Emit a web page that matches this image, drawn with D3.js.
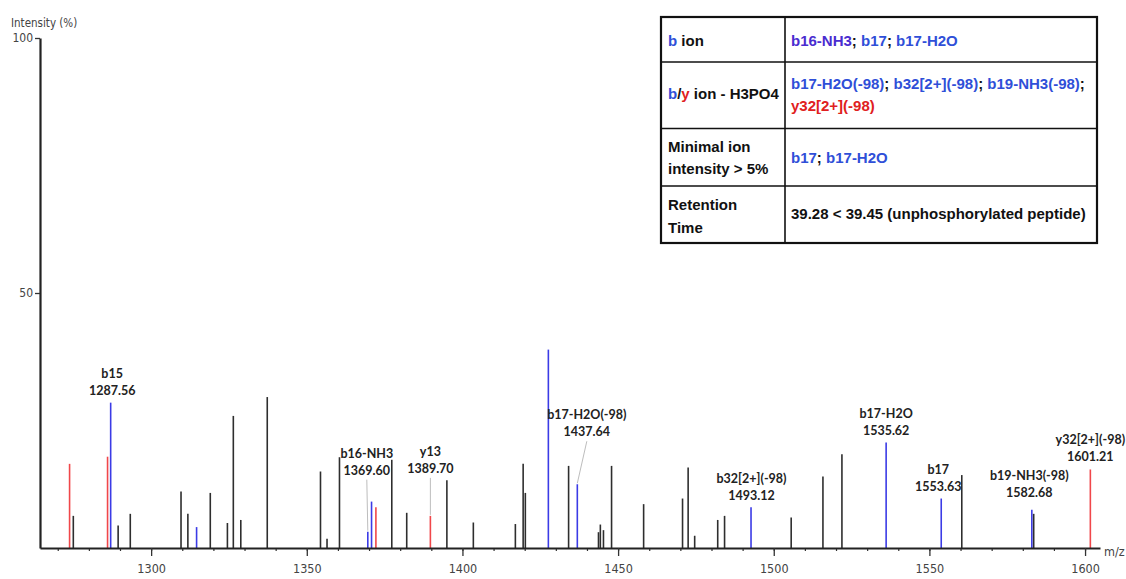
<!DOCTYPE html>
<html>
<head>
<meta charset="utf-8">
<script src="https://cdn.jsdelivr.net/npm/d3@7"></script>
<style>
  html, body { margin: 0; padding: 0; background: #fff; }
  svg { display: block; }
</style>
</head>
<body>
<svg id="chart" width="1126" height="579"></svg>
<script>
// ---------------- DATA ----------------
const peakMz = [1273.8, 1275.0, 1286.0, 1287.0, 1289.4, 1293.3, 1309.6, 1311.8, 1314.6, 1319.0,
  1324.5, 1326.4, 1328.8, 1337.3, 1354.4, 1356.5, 1360.5, 1369.6, 1370.8, 1372.2,
  1377.3, 1382.1, 1389.7, 1395.0, 1403.5, 1417.0, 1419.5, 1420.2, 1427.6, 1434.1,
  1436.9, 1443.7, 1444.3, 1445.3, 1447.9, 1458.2, 1470.7, 1472.5, 1474.6, 1482.0,
  1484.2, 1492.7, 1505.6, 1515.8, 1521.9, 1536.1, 1553.8, 1560.4, 1582.9, 1583.5,
  1601.7];
const peakIntensity = [16.5, 6.3, 17.9, 28.5, 4.4, 6.7, 11.1, 6.7, 4.1, 10.8,
  4.9, 25.9, 5.5, 29.6, 15.0, 1.8, 17.8, 3.2, 9.1, 8.0,
  17.3, 6.9, 6.3, 13.3, 5.0, 4.7, 16.5, 10.8, 38.9, 16.1,
  12.5, 3.1, 4.6, 3.5, 16.1, 8.6, 9.7, 15.8, 2.4, 5.5,
  6.3, 8.0, 6.0, 14.0, 18.4, 20.7, 9.7, 14.3, 7.5, 6.7,
  15.4];
const peakType = ["y", "o", "y", "b", "o", "o", "o", "o", "b", "o",
  "o", "o", "o", "o", "o", "o", "o", "b", "b", "y",
  "o", "o", "y", "o", "o", "o", "o", "o", "b", "o",
  "b", "o", "o", "o", "o", "o", "o", "o", "o", "o",
  "o", "b", "o", "o", "o", "b", "b", "o", "b", "o",
  "y"];

// annotated peaks: index into peak arrays, ion name, m/z text
const annPeak = [3, 17, 22, 30, 41, 45, 46, 48, 50];
const annIon  = ["b15", "b16-NH3", "y13", "b17-H2O(-98)", "b32[2+](-98)", "b17-H2O", "b17", "b19-NH3(-98)", "y32[2+](-98)"];
const annMz   = ["1287.56", "1369.60", "1389.70", "1437.64", "1493.12", "1535.62", "1553.63", "1582.68", "1601.21"];

const xTicks = [1300, 1350, 1400, 1450, 1500, 1550, 1600];
const xMinorTicks = d3.range(1270, 1601, 10);
const yTicks = [50, 100];

// table contents
const tableRows = [
  { left: [[["b", "blue"], [" ion", "black"]]],
    right: [[["b16-NH3", "purple"], ["; ", "black"], ["b17", "blue"], ["; ", "black"], ["b17-H2O", "blue"]]] },
  { left: [[["b", "blue"], ["/", "black"], ["y", "red"], [" ion - H3PO4", "black"]]],
    right: [[["b17-H2O(-98)", "blue"], ["; ", "black"], ["b32[2+](-98)", "blue"], ["; ", "black"], ["b19-NH3(-98)", "blue"], [";", "black"]],
            [["y32[2+](-98)", "red"]]] },
  { left: [[["Minimal ion", "black"]], [["intensity > 5%", "black"]]],
    right: [[["b17", "blue"], ["; ", "black"], ["b17-H2O", "blue"]]] },
  { left: [[["Retention", "black"]], [["Time", "black"]]],
    right: [[["39.28 < 39.45 (unphosphorylated peptide)", "black"]]] }
];

// ---------------- LAYOUT / STYLE ----------------
const colors = { o: "#2e2e2e", b: "#3b3be6", y: "#f0474a" };
const textColors = { black: "#111", blue: "#2f4fd8", purple: "#4a2cd0", red: "#e02020" };
// per-label layout offsets (dx, lift above peak top for second line baseline, leader)
const annLayout = {
  "b15": { dx: 1.5, lift: 8 },
  "b16-NH3": { dx: -1, lift: 57, leader: true },
  "y13": { dx: 0, lift: 43, leader: true },
  "b17-H2O(-98)": { dx: 9.5, lift: 48, leader: true },
  "b32[2+](-98)": { dx: 0.5, lift: 7.5 },
  "b17-H2O": { dx: 0, lift: 7.5 },
  "b17": { dx: -3, lift: 8 },
  "b19-NH3(-98)": { dx: -2.5, lift: 13 },
  "y32[2+](-98)": { dx: 0, lift: 8.5 }
};

const svg = d3.select("#chart");
const x = d3.scaleLinear().domain([1264.3, 1604.8]).range([40, 1100]);
const y = d3.scaleLinear().domain([0, 100]).range([548, 38]);

const axisFont = "'DejaVu Sans Condensed', 'DejaVu Sans', sans-serif";

// peaks
const peaks = peakMz.map((m, i) => ({ mz: m, I: peakIntensity[i], t: peakType[i] }));
svg.append("g").selectAll("line").data(peaks).join("line")
  .attr("x1", d => x(d.mz)).attr("x2", d => x(d.mz))
  .attr("y1", y(0)).attr("y2", d => y(d.I))
  .attr("stroke", d => colors[d.t])
  .attr("stroke-width", 1.6);

// x axis minor
svg.append("g").attr("transform", `translate(0,${y(0)})`)
  .call(d3.axisBottom(x).tickValues(xMinorTicks).tickSize(3).tickFormat("").tickSizeOuter(0))
  .call(g => g.select(".domain").remove())
  .call(g => g.selectAll("line").attr("stroke", "#333").attr("stroke-width", 1.2));

// x axis major
const gx = svg.append("g").attr("transform", `translate(0,${y(0)})`)
  .call(d3.axisBottom(x).tickValues(xTicks).tickSize(8).tickSizeOuter(0).tickPadding(8).tickFormat(d3.format("d")));
gx.select(".domain").attr("stroke", "#222").attr("stroke-width", 2.2);
gx.selectAll(".tick line").attr("stroke", "#333").attr("stroke-width", 1.3);
gx.selectAll(".tick text").attr("font-family", axisFont).attr("font-size", 12.5).attr("fill", "#444");

svg.append("text").attr("x", 1104).attr("y", 556)
  .attr("font-family", axisFont).attr("font-size", 12.5).attr("fill", "#444").text("m/z");

// y axis
const gy = svg.append("g").attr("transform", `translate(40,0)`)
  .call(d3.axisLeft(y).tickValues(yTicks).tickSize(5).tickSizeOuter(0).tickPadding(2).tickFormat(d3.format("d")));
gy.select(".domain").attr("stroke", "#222").attr("stroke-width", 2.2);
gy.selectAll(".tick line").attr("stroke", "#333").attr("stroke-width", 1.3);
gy.selectAll(".tick text").attr("font-family", axisFont).attr("font-size", 12).attr("fill", "#444");

svg.append("text").attr("x", 11).attr("y", 27)
  .attr("font-family", axisFont).attr("font-size", 11.5).attr("fill", "#444").text("Intensity (%)");

// annotations
const labelFont = "Lato, 'Open Sans', sans-serif";
const ann = svg.append("g");
annPeak.forEach((pi, k) => {
  const p = peaks[pi];
  const lay = annLayout[annIon[k]];
  const px = x(p.mz), py = y(p.I);
  const cx = px + lay.dx;
  const b2 = py - lay.lift;
  const b1 = b2 - 17;
  if (lay.leader) {
    ann.append("line")
      .attr("x1", cx).attr("y1", b2 + 5)
      .attr("x2", px).attr("y2", py - 1)
      .attr("stroke", "#bdbdbd").attr("stroke-width", 1);
  }
  ann.append("text").attr("x", cx).attr("y", b1).attr("text-anchor", "middle")
    .attr("font-family", labelFont).attr("font-weight", 700).attr("font-size", 12.5)
    .attr("fill", "#222").text(annIon[k]);
  ann.append("text").attr("x", cx).attr("y", b2).attr("text-anchor", "middle")
    .attr("font-family", labelFont).attr("font-weight", 700).attr("font-size", 12.5)
    .attr("fill", "#222").text(annMz[k]);
});

// table
const tX0 = 661, tX1 = 1097, tXc = 785;
const rowEdges = [17, 62, 128.5, 186, 243];
const leftBase = [[45.5], [98.5], [152, 174], [210, 232.5]];
const rightBase = [[45.5], [89, 111], [162.5], [219]];
const tg = svg.append("g");
tg.append("rect").attr("x", tX0).attr("y", rowEdges[0])
  .attr("width", tX1 - tX0).attr("height", rowEdges[4] - rowEdges[0])
  .attr("fill", "#fff").attr("stroke", "#111").attr("stroke-width", 2.2);
rowEdges.slice(1, 4).forEach(ry => {
  tg.append("line").attr("x1", tX0).attr("x2", tX1).attr("y1", ry).attr("y2", ry)
    .attr("stroke", "#111").attr("stroke-width", 1.6);
});
tg.append("line").attr("x1", tXc).attr("x2", tXc).attr("y1", rowEdges[0]).attr("y2", rowEdges[4])
  .attr("stroke", "#111").attr("stroke-width", 1.6);

const tableFont = "'Liberation Sans', Arial, sans-serif";
function addRich(xp, yp, runs) {
  const t = tg.append("text").attr("x", xp).attr("y", yp)
    .attr("font-family", tableFont).attr("font-weight", 700).attr("font-size", 15)
    .attr("xml:space", "preserve");
  runs.forEach(r => t.append("tspan").attr("fill", textColors[r[1]]).text(r[0]));
}
tableRows.forEach((row, i) => {
  row.left.forEach((ln, j) => addRich(668, leftBase[i][j], ln));
  row.right.forEach((ln, j) => addRich(791, rightBase[i][j], ln));
});
</script>
</body>
</html>
